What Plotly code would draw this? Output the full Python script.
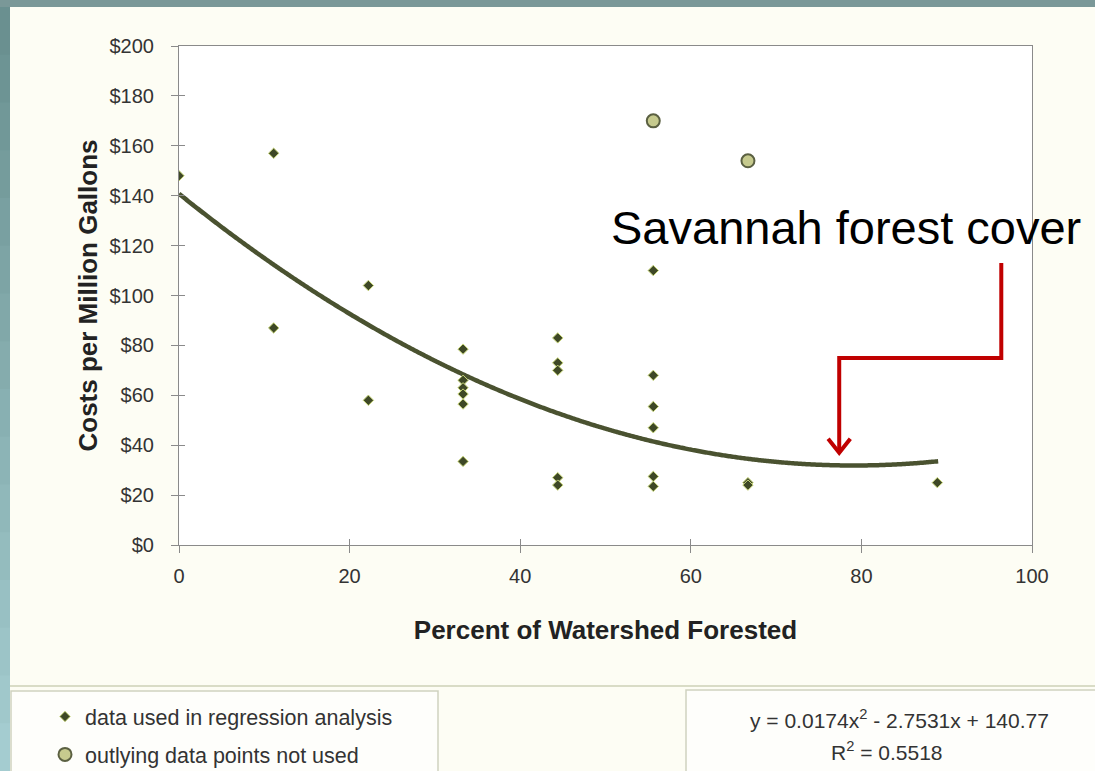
import numpy as np
import plotly.graph_objects as go

# ---- data ----
used_x = [0, 11.1, 11.1, 22.2, 22.2, 33.3, 33.3, 33.3, 33.3, 33.3, 33.3,
          44.4, 44.4, 44.4, 44.4, 44.4, 55.6, 55.6, 55.6, 55.6, 55.6, 55.6,
          66.7, 66.7, 88.9]
used_y = [148, 157, 87, 104, 58, 78.5, 66, 63, 60.5, 56.5, 33.5,
          83, 73, 70, 27, 24, 110, 68, 55.5, 47, 27.5, 23.5,
          25, 24, 25]
outlier_x = [55.6, 66.7]
outlier_y = [170, 154]
trend_coef = [0.0174, -2.7531, 140.77]   # y = a x^2 + b x + c (as shown on chart)
trend_range = [0, 89]
y_ticks = [0, 20, 40, 60, 80, 100, 120, 140, 160, 180, 200]
y_ticklabels = ["$" + str(v) for v in y_ticks]
x_ticks = [0, 20, 40, 60, 80, 100]

W, H = 1095, 771
L, R, T, B = 179, 1032, 46, 545


def px(x):
    return (x - L) / (R - L)


def py(y):
    return (B - y) / (B - T)


FONT = "Arial, Liberation Sans, sans-serif"
OLIVE = "#4a5230"

tx = np.linspace(trend_range[0], trend_range[1], 300)
ty = trend_coef[0] * tx ** 2 + trend_coef[1] * tx + trend_coef[2]

fig = go.Figure()
fig.add_trace(go.Scatter(x=tx, y=ty, mode="lines", line=dict(color=OLIVE, width=4.5, shape="spline"),
                         showlegend=False, hoverinfo="skip"))
fig.add_trace(go.Scatter(x=used_x, y=used_y, mode="markers",
                         name="data used in regression analysis", legendgroup="a",
                         marker=dict(symbol="diamond", size=8, color="#3e4826",
                                     line=dict(color="#c9d77a", width=1))))
fig.add_trace(go.Scatter(x=outlier_x, y=outlier_y, mode="markers",
                         name="outlying data points not used", legendgroup="b",
                         marker=dict(symbol="circle", size=13, color="#c6ca8e",
                                     line=dict(color="#5b6042", width=2))))
# invisible trace to drive overlay axes (cross ticks)
fig.add_trace(go.Scatter(x=[0], y=[0], xaxis="x2", yaxis="y2", mode="markers",
                         marker=dict(opacity=0), showlegend=False, hoverinfo="skip"))

shapes = []
# cream panel / teal slide frame
shapes.append(dict(type="rect", xref="paper", yref="paper", x0=px(0), x1=px(W), y0=py(H), y1=py(0),
                   fillcolor="#fdfdf4", line_width=0, layer="below"))
shapes.append(dict(type="rect", xref="paper", yref="paper", x0=px(0), x1=px(W), y0=py(7), y1=py(0),
                   fillcolor="#7a9898", line_width=0, layer="below"))
nb = 16
c0 = np.array([0x6a, 0x90, 0x90])
c1 = np.array([0xa4, 0xcc, 0xd0])
for i in range(nb):
    f = i / (nb - 1)
    c = (c0 + (c1 - c0) * f).astype(int)
    shapes.append(dict(type="rect", xref="paper", yref="paper", x0=px(0), x1=px(10),
                       y0=py(7 + (H - 7) * (i + 1) / nb + 1), y1=py(7 + (H - 7) * i / nb),
                       fillcolor="rgb(%d,%d,%d)" % tuple(c), line_width=0, layer="below"))
# plot area white
shapes.append(dict(type="rect", xref="paper", yref="paper", x0=0, x1=1, y0=0, y1=1,
                   fillcolor="white", line_width=0, layer="below"))
# separator line and bottom boxes
shapes.append(dict(type="line", xref="paper", yref="paper", x0=px(10), x1=px(W), y0=py(686), y1=py(686),
                   line=dict(color="#d9dcc6", width=2), layer="below"))
shapes.append(dict(type="rect", xref="paper", yref="paper", x0=px(11), x1=px(438), y0=py(H + 5), y1=py(691),
                   fillcolor="#fefefb", line=dict(color="#cfd2c0", width=1.5), layer="below"))
shapes.append(dict(type="rect", xref="paper", yref="paper", x0=px(686), x1=px(W + 5), y0=py(H + 5), y1=py(690),
                   fillcolor="#fefefb", line=dict(color="#cfd2c0", width=1.5), layer="below"))

# red arrow (annotation)
RED = "#c00000"
ax1, ay1 = 96.4, 113
ax2, ay2 = 77.4, 75
tipy = 37
shapes.append(dict(type="path", xref="x", yref="y",
                   path=f"M {ax1},{ay1} L {ax1},{ay2} L {ax2},{ay2} L {ax2},{tipy}",
                   line=dict(color=RED, width=4)))
shapes.append(dict(type="path", xref="x", yref="y",
                   path=f"M {ax2-1.3},{tipy+5.6} L {ax2},{tipy} L {ax2+1.3},{tipy+5.6}",
                   line=dict(color=RED, width=4)))

annotations = [
    dict(text="Savannah forest cover", xref="paper", yref="paper", x=px(846), y=py(227),
         showarrow=False, font=dict(family=FONT, size=47, color="black"),
         xanchor="center", yanchor="middle"),
    dict(text="y = 0.0174x<sup>2</sup> - 2.7531x + 140.77", xref="paper", yref="paper",
         x=px(899), y=py(719), showarrow=False, font=dict(family=FONT, size=21, color="#333"),
         xanchor="center", yanchor="middle"),
    dict(text="R<sup>2</sup> = 0.5518", xref="paper", yref="paper",
         x=px(887), y=py(751), showarrow=False, font=dict(family=FONT, size=21, color="#333"),
         xanchor="center", yanchor="middle"),
]

axis_common = dict(showline=True, linecolor="#8a8a8a", linewidth=1.2, mirror=True,
                   showgrid=False, zeroline=False, ticks="outside", ticklen=7,
                   tickcolor="#8a8a8a", tickwidth=1.2, automargin=False,
                   tickfont=dict(family=FONT, size=20, color="#333"))

fig.update_layout(
    width=W, height=H,
    margin=dict(l=L, r=W - R, t=T, b=H - B, pad=0, autoexpand=False),
    paper_bgcolor="#fdfdf4", plot_bgcolor="rgba(0,0,0,0)",
    xaxis=dict(range=[0, 100], tickvals=x_ticks, ticklabelstandoff=6,
               title=dict(text="<b>Percent of Watershed Forested</b>",
                          font=dict(family=FONT, size=26, color="#222"), standoff=34),
               **axis_common),
    yaxis=dict(range=[0, 200], tickvals=y_ticks, ticktext=y_ticklabels, ticklabelstandoff=13,
               title=dict(text="<b>Costs per Million Gallons</b>",
                          font=dict(family=FONT, size=26, color="#222"), standoff=4),
               **axis_common),
    xaxis2=dict(overlaying="x", matches="x", range=[0, 100], tickvals=x_ticks, ticks="inside",
                ticklen=6, tickcolor="#8a8a8a", tickwidth=1.2, showticklabels=False,
                showgrid=False, zeroline=False, showline=False, automargin=False),
    yaxis2=dict(overlaying="y", matches="y", range=[0, 200], tickvals=y_ticks, ticks="inside",
                ticklen=6, tickcolor="#8a8a8a", tickwidth=1.2, showticklabels=False,
                showgrid=False, zeroline=False, showline=False, automargin=False),
    showlegend=True,
    legend=dict(x=px(45), y=py(696), xanchor="left", yanchor="top",
                bgcolor="rgba(0,0,0,0)", borderwidth=0, tracegroupgap=7,
                font=dict(family=FONT, size=21.5, color="#333"), itemwidth=30),
    shapes=shapes, annotations=annotations,
    hovermode=False,
)

fig.write_html("out.html", config={"displayModeBar": False},
               post_script="document.body.style.margin='0px';document.body.style.overflow='hidden';")
